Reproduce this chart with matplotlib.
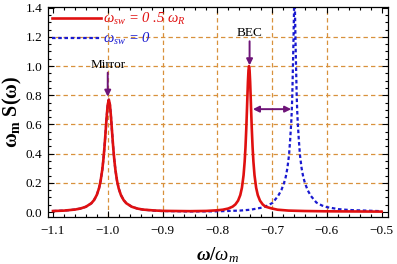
import matplotlib.pyplot as plt
from matplotlib.ticker import MultipleLocator

plt.rcParams['font.family'] = ['Liberation Serif', 'DejaVu Serif']
plt.rcParams['mathtext.fontset'] = 'custom'
plt.rcParams['mathtext.rm'] = 'Liberation Serif'
plt.rcParams['mathtext.it'] = 'Liberation Serif:italic'
plt.rcParams['mathtext.bf'] = 'Liberation Serif:bold'
plt.rcParams['mathtext.bfit'] = 'Liberation Serif:bold:italic'

# red curve, omega_sw = 0.5 omega_R
red_x = [-1.1, -1.08, -1.06, -1.05, -1.04, -1.03, -1.025, -1.02, -1.016, -1.013,
         -1.010, -1.008, -1.006, -1.004, -1.002, -1.000, -0.998, -0.996, -0.994, -0.992,
         -0.990, -0.988, -0.986, -0.983, -0.980, -0.976, -0.971, -0.966, -0.956, -0.946,
         -0.936, -0.916, -0.9, -0.85, -0.82, -0.8, -0.79, -0.78, -0.772, -0.767,
         -0.762, -0.758, -0.755, -0.752, -0.750, -0.7485, -0.747, -0.746, -0.745, -0.744,
         -0.743, -0.742, -0.741, -0.740, -0.739, -0.738, -0.737, -0.7355, -0.734, -0.732,
         -0.729, -0.726, -0.722, -0.717, -0.712, -0.702, -0.69, -0.67, -0.64, -0.6,
         -0.55, -0.5]
red_y = [0.007, 0.0098, 0.017, 0.024, 0.036, 0.060, 0.082, 0.117, 0.162, 0.214,
         0.289, 0.357, 0.4425, 0.544, 0.650, 0.736, 0.77, 0.736, 0.650, 0.544,
         0.4425, 0.357, 0.289, 0.214, 0.162, 0.117, 0.082, 0.060, 0.036, 0.024,
         0.017, 0.011, 0.008, 0.006, 0.0076, 0.012, 0.016, 0.024, 0.037, 0.052,
         0.078, 0.116, 0.166, 0.252, 0.345, 0.443, 0.574, 0.678, 0.789, 0.894,
         0.971, 1.0, 0.971, 0.894, 0.789, 0.678, 0.574, 0.443, 0.345, 0.252,
         0.166, 0.116, 0.078, 0.052, 0.037, 0.026, 0.016, 0.010, 0.007, 0.005,
         0.004, 0.003]

# blue dotted curve, omega_sw = 0 (its mirror peak lies under the red one)
blue_x = [-1.1, -1.08, -1.06, -1.05, -1.04, -1.03, -1.025, -1.02, -1.016, -1.013,
          -1.010, -1.008, -1.006, -1.004, -1.002, -1.000, -0.998, -0.996, -0.994, -0.992,
          -0.990, -0.988, -0.986, -0.983, -0.980, -0.976, -0.971, -0.966, -0.956, -0.946,
          -0.936, -0.916, -0.9, -0.85, -0.8,
          -0.759, -0.739, -0.719, -0.709, -0.699, -0.689,
          -0.683, -0.678, -0.675, -0.672, -0.669, -0.667, -0.665, -0.664, -0.663, -0.662,
          -0.661, -0.660, -0.659, -0.658, -0.657, -0.656, -0.655, -0.654, -0.653, -0.651,
          -0.649, -0.646, -0.643, -0.640, -0.635, -0.629, -0.619, -0.609, -0.599, -0.579,
          -0.559, -0.5]
blue_y = [0.007, 0.0098, 0.017, 0.024, 0.036, 0.060, 0.082, 0.117, 0.162, 0.214,
          0.289, 0.357, 0.4425, 0.544, 0.650, 0.736, 0.77, 0.736, 0.650, 0.544,
          0.4425, 0.357, 0.289, 0.214, 0.162, 0.117, 0.082, 0.060, 0.036, 0.024,
          0.017, 0.0095, 0.007, 0.004, 0.005,
          0.010, 0.016, 0.030, 0.043, 0.063, 0.11,
          0.15, 0.20, 0.24, 0.30, 0.39, 0.49, 0.61, 0.69, 0.80, 0.97,
          1.15, 1.35, 1.6, 1.35, 1.15, 0.97, 0.80, 0.69, 0.61, 0.49,
          0.39, 0.30, 0.24, 0.20, 0.15, 0.11, 0.065, 0.045, 0.033, 0.02,
          0.014, 0.006]

x_grid = [-1.0, -0.9, -0.8, -0.7, -0.6]
y_grid = [0.2, 0.4, 0.6, 0.8, 1.0, 1.2]
x_ticks = [-1.1, -1.0, -0.9, -0.8, -0.7, -0.6, -0.5]
y_ticks = [0.0, 0.2, 0.4, 0.6, 0.8, 1.0, 1.2, 1.4]

grid_col = '#d8913c'
arrow_col = '#6e1478'

fig = plt.figure(figsize=(3.97, 2.64), dpi=100)
ax = fig.add_axes([0.121, 0.178, 0.856, 0.795])

for g in x_grid:
    ax.axvline(g, color=grid_col, lw=0.9, ls=(0, (3.5, 2.5)), zorder=0)
for g in y_grid:
    ax.axhline(g, color=grid_col, lw=0.9, ls=(0, (3.5, 2.5)), zorder=0)

ax.plot(blue_x, blue_y, color='#1a1ad0', lw=1.6, ls=(0, (1.6, 1.2)),
        label=r'$\omega_{sw}$ = 0', zorder=2)
ax.plot(red_x, red_y, color='#e01010', lw=1.9,
        label=r'$\omega_{sw}$ = 0 .5 $\omega_R$', zorder=3)

# the legend is drawn red first, blue second
h, l = ax.get_legend_handles_labels()
leg = ax.legend(h[::-1], l[::-1], loc='upper left', bbox_to_anchor=(0.0, 1.0),
                frameon=False, handlelength=3.4, handletextpad=0.15,
                labelspacing=0.3, borderaxespad=0.0, borderpad=0.25,
                prop={'size': 10.5, 'style': 'italic'}, labelcolor='linecolor')

ap = dict(arrowstyle='-|>', color=arrow_col, lw=1.4, mutation_scale=9,
          shrinkA=0, shrinkB=0)
ax.text(-1.0, 1.01, 'Mirror', ha='center', va='center', fontsize=9.5)
ax.annotate('', xy=(-1.0, 0.79), xytext=(-1.0, 0.955), arrowprops=ap)
ax.text(-0.741, 1.226, 'BEC', ha='center', va='center', fontsize=9.5)
ax.annotate('', xy=(-0.741, 1.005), xytext=(-0.741, 1.17), arrowprops=ap)
ap2 = dict(ap, arrowstyle='<|-|>')
ax.annotate('', xy=(-0.735, 0.705), xytext=(-0.665, 0.705), arrowprops=ap2)

ax.set_xlim(-1.109, -0.4885)
ax.set_ylim(-0.034, 1.404)
ax.set_xticks(x_ticks)
ax.set_xticklabels(['\u2212%.1f' % abs(v) for v in x_ticks])
ax.set_yticks(y_ticks)
ax.set_yticklabels(['%.1f' % v for v in y_ticks])
ax.xaxis.set_minor_locator(MultipleLocator(0.02))
ax.yaxis.set_minor_locator(MultipleLocator(0.05))
ax.tick_params(which='both', direction='in', top=True, right=True, labelsize=9.5,
               width=0.8, color='black')
ax.tick_params(which='major', length=4)
ax.tick_params(axis='x', which='major', pad=6)
ax.tick_params(axis='y', which='major', pad=4)
ax.tick_params(which='minor', length=2.2)
for s in ax.spines.values():
    s.set_linewidth(0.9)

ax.set_xlabel(r'$\boldsymbol{\omega/\omega_m}$', fontsize=13.5, labelpad=6)
ax.set_ylabel(r'$\mathbf{\omega_m\ S(\omega)}$', fontsize=14.5, labelpad=1)

fig.savefig('out.png', dpi=100)
